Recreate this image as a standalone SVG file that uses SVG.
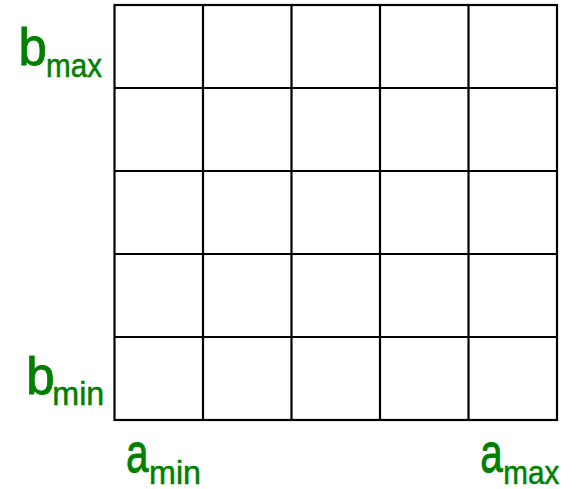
<svg xmlns="http://www.w3.org/2000/svg" width="576" height="489" viewBox="0 0 576 489">
<style>
.grid{fill:none;stroke:#000;stroke-width:2.2}
.m{font-family:"Liberation Sans",Arial,sans-serif;font-size:51px;fill:#008000;stroke:#008000;stroke-width:0.9}
.a{font-size:55px}
.s{font-family:"Liberation Sans",Arial,sans-serif;font-size:33px;fill:#008000;stroke:#008000;stroke-width:0.5}
</style>
<rect width="576" height="489" fill="#fff"/>
<g id="grid" class="grid">
<rect x="114.5" y="5" width="442.5" height="415"/>
<path d="M203 5V420M291.5 5V420M380 5V420M468.5 5V420M114.5 88H557M114.5 171H557M114.5 254H557M114.5 337H557"/>
</g>
<g id="label-bmax">
<text class="m" x="18.6" y="65">b</text>
<text class="s" x="46" y="77" textLength="56" lengthAdjust="spacingAndGlyphs">max</text>
</g>
<g id="label-bmin">
<text class="m" x="26.2" y="393.5">b</text>
<text class="s" x="52.3" y="405" textLength="52" lengthAdjust="spacingAndGlyphs">min</text>
</g>
<g id="label-amin">
<text class="m a" x="126" y="471.5" textLength="22.5" lengthAdjust="spacingAndGlyphs">a</text>
<text class="s" x="149" y="484" textLength="52" lengthAdjust="spacingAndGlyphs">min</text>
</g>
<g id="label-amax">
<text class="m a" x="480.3" y="471.5" textLength="22.5" lengthAdjust="spacingAndGlyphs">a</text>
<text class="s" x="503.3" y="484" textLength="56" lengthAdjust="spacingAndGlyphs">max</text>
</g>
</svg>
